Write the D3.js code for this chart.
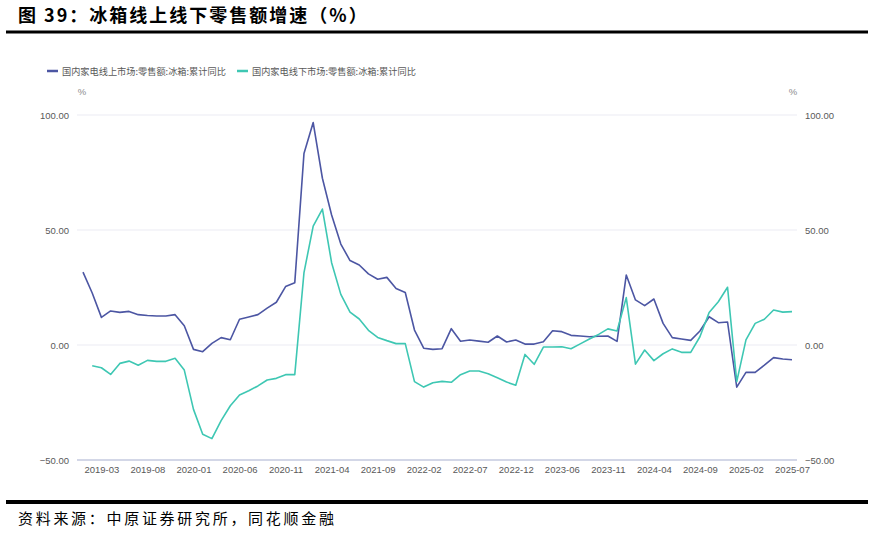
<!DOCTYPE html>
<html>
<head>
<meta charset="utf-8">
<script src="https://cdn.jsdelivr.net/npm/d3@7"></script>
<style>
  body { margin: 0; background: #fff; }
  svg { display: block; }
</style>
</head>
<body>
<div id="body"></div>
<script>
// months on the category axis (2023-01 is not in the source)
let months = [
  "2019-01","2019-02","2019-03","2019-04","2019-05","2019-06","2019-07","2019-08","2019-09","2019-10","2019-11","2019-12",
  "2020-01","2020-02","2020-03","2020-04","2020-05","2020-06","2020-07","2020-08","2020-09","2020-10","2020-11","2020-12",
  "2021-01","2021-02","2021-03","2021-04","2021-05","2021-06","2021-07","2021-08","2021-09","2021-10","2021-11","2021-12",
  "2022-01","2022-02","2022-03","2022-04","2022-05","2022-06","2022-07","2022-08","2022-09","2022-10","2022-11","2022-12",
  "2023-02","2023-03","2023-04","2023-05","2023-06","2023-07","2023-08","2023-09","2023-10","2023-11","2023-12",
  "2024-01","2024-02","2024-03","2024-04","2024-05","2024-06","2024-07","2024-08","2024-09","2024-10","2024-11","2024-12",
  "2025-01","2025-02","2025-03","2025-04","2025-05","2025-06","2025-07"
]

// 国内家电线上市场:零售额:冰箱:累计同比
let online = [
  31.7, 22.6, 12.0, 14.8, 14.2, 14.6, 13.2, 12.8, 12.6, 12.6, 13.2, 8.4,
  -1.9, -2.9, 0.7, 3.2, 2.3, 11.2, 12.2, 13.2, 16.0, 18.6, 25.4, 27.1,
  83.3, 96.7, 72.5, 56.5, 43.9, 36.7, 34.8, 30.9, 28.6, 29.4, 24.6, 22.8,
  6.5, -1.4, -1.9, -1.6, 7.1, 1.6, 2.2, 1.7, 1.2, 3.9, 1.3, 2.2,
  0.4, 0.4, 1.4, 6.2, 5.8, 4.2, 3.9, 3.6, 3.8, 3.9, 1.6,
  30.4, 19.6, 17.1, 20.0, 9.4, 3.2, 2.6, 2.0, 6.1, 12.3, 9.7, 10.0,
  -18.3, -11.9, -11.9, -8.8, -5.5, -6.1, -6.4
]

// 国内家电线下市场:零售额:冰箱:累计同比
let offline = [
  null, -9.0, -9.9, -12.8, -8.0, -7.0, -8.8, -6.7, -7.1, -7.1, -5.8, -10.9,
  -28.0, -38.8, -40.7, -32.9, -26.4, -21.7, -19.9, -17.8, -15.2, -14.5, -12.9, -12.9,
  31.5, 51.7, 59.1, 35.8, 22.0, 14.3, 11.3, 6.4, 3.3, 1.9, 0.6, 0.6,
  -15.9, -18.3, -16.4, -15.8, -16.2, -12.9, -11.3, -11.3, -12.5, -14.2, -16.1, -17.5,
  -4.1, -8.4, -0.9, -0.9, -0.8, -1.6, 0.5, 2.6, 4.6, 7.0, 6.1,
  20.6, -8.3, -2.2, -6.8, -3.8, -1.7, -3.2, -3.2, 3.6, 14.1, 18.8, 25.1,
  -15.9, 2.2, 9.4, 11.2, 15.2, 14.3, 14.5
]

let seriesNames = ["国内家电线上市场:零售额:冰箱:累计同比", "国内家电线下市场:零售额:冰箱:累计同比"]
let yTicks = [-50, 0, 50, 100]
let xTickLabels = ["2019-03","2019-08","2020-01","2020-06","2020-11","2021-04","2021-09",
  "2022-02","2022-07","2022-12","2023-06","2023-11","2024-04","2024-09","2025-02","2025-07"]

let colors = ["#4c56a3", "#3ec7b3"]

let width = 874, height = 534
let plot = { left: 77, right: 797, top: 115, bottom: 460 }

let svg = d3.select("#body")
  .append("svg")
  .attr("width", width)
  .attr("height", height)

// title + rules
svg.append("text")
  .attr("x", 18)
  .attr("y", 22)
  .style("font-family", "'Noto Sans CJK SC', sans-serif")
  .style("font-size", "18px")
  .style("font-weight", "bold")
  .style("letter-spacing", "2px")
  .attr("fill", "#000")
  .text("图 39：冰箱线上线下零售额增速（%）")

svg.append("line")
  .attr("x1", 6).attr("x2", 868)
  .attr("y1", 32).attr("y2", 32)
  .attr("stroke", "#000").attr("stroke-width", 3)

svg.append("line")
  .attr("x1", 6).attr("x2", 868)
  .attr("y1", 502).attr("y2", 502)
  .attr("stroke", "#000").attr("stroke-width", 4)

svg.append("text")
  .attr("x", 18)
  .attr("y", 524)
  .style("font-family", "'Noto Sans CJK SC', sans-serif")
  .style("font-size", "15px")
  .style("letter-spacing", "2.7px")
  .attr("fill", "#000")
  .text("资料来源：中原证券研究所，同花顺金融")

// scales
let x = d3.scalePoint()
  .domain(months)
  .range([83, 792])

let y = d3.scaleLinear()
  .domain([-50, 100])
  .range([plot.bottom, plot.top])

let labelFont = "'Liberation Sans', Arial, sans-serif"
let labelSize = "9.5px"

// grid lines
svg.append("g")
  .selectAll("line")
  .data(yTicks.filter(d => d !== -50))
  .enter()
  .append("line")
  .attr("x1", plot.left).attr("x2", plot.right)
  .attr("y1", d => y(d)).attr("y2", d => y(d))
  .attr("stroke", "#ebebf3")
  .attr("stroke-width", 1)

// left axis
let left = svg.append("g")
  .attr("transform", "translate(" + (plot.left - 6) + ",0)")
  .call(d3.axisLeft(y).tickValues(yTicks).tickSize(0).tickPadding(2).tickFormat(d3.format(".2f")))
left.select(".domain").remove()
left.selectAll("text")
  .style("font-family", labelFont)
  .style("font-size", labelSize)
  .attr("fill", "#595959")

// right axis
let right = svg.append("g")
  .attr("transform", "translate(" + (plot.right + 6) + ",0)")
  .call(d3.axisRight(y).tickValues(yTicks).tickSize(0).tickPadding(2).tickFormat(d3.format(".2f")))
right.select(".domain").remove()
right.selectAll("text")
  .style("font-family", labelFont)
  .style("font-size", labelSize)
  .attr("fill", "#595959")

// bottom axis
svg.append("line")
  .attr("x1", plot.left).attr("x2", plot.right)
  .attr("y1", plot.bottom).attr("y2", plot.bottom)
  .attr("stroke", "#a7afcf")
  .attr("stroke-width", 1.2)

let bottom = svg.append("g")
  .attr("transform", "translate(0," + plot.bottom + ")")
  .call(d3.axisBottom(x).tickValues(xTickLabels).tickSize(0).tickPadding(6))
bottom.select(".domain").remove()
bottom.selectAll("text")
  .style("font-family", labelFont)
  .style("font-size", labelSize)
  .attr("fill", "#595959")

// unit labels
svg.selectAll(".unit")
  .data([82, 793])
  .enter()
  .append("text")
  .attr("class", "unit")
  .attr("x", d => d)
  .attr("y", 95)
  .attr("text-anchor", "middle")
  .style("font-family", labelFont)
  .style("font-size", labelSize)
  .attr("fill", "#8c8c8c")
  .text("%")

// lines
let line = d3.line()
  .defined(d => d.v !== null)
  .x(d => x(d.m))
  .y(d => y(d.v))

;[online, offline].forEach(function (vals, k) {
  let pts = months.map(function (m, i) { return { m: m, v: vals[i] } })
  svg.append("path")
    .datum(pts)
    .attr("d", line)
    .attr("fill", "none")
    .attr("stroke", colors[k])
    .attr("stroke-width", 1.6)
    .attr("stroke-linejoin", "round")
})

// legend
let legendX = [47, 237]
let legend = svg.selectAll(".legend")
  .data(seriesNames)
  .enter()
  .append("g")
  .attr("class", "legend")
  .attr("transform", (d, i) => "translate(" + legendX[i] + ",71)")
legend.append("line")
  .attr("x1", 0).attr("x2", 11)
  .attr("y1", 0).attr("y2", 0)
  .attr("stroke", (d, i) => colors[i])
  .attr("stroke-width", 2.5)
legend.append("text")
  .attr("x", 15)
  .attr("y", 4)
  .style("font-family", "'Noto Sans CJK SC', sans-serif")
  .style("font-size", "9.2px")
  .attr("fill", "#595959")
  .text(d => d)
</script>
</body>
</html>
